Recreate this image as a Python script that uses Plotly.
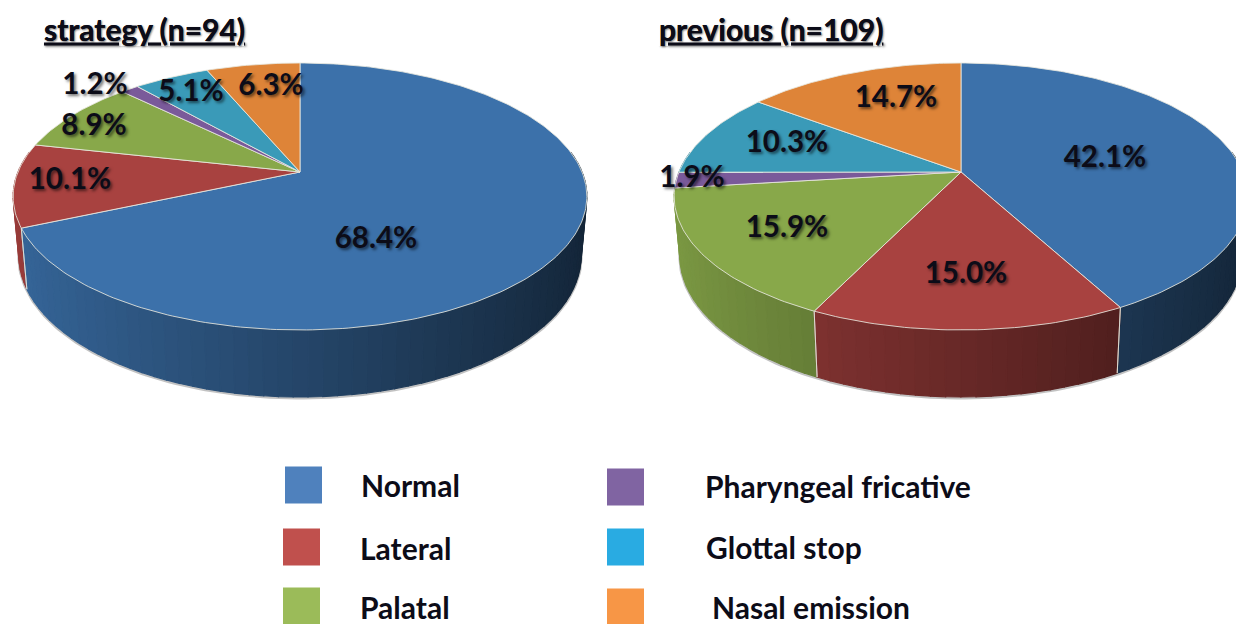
import numpy as np
import plotly.graph_objects as go

# ---- data ----
categories = ["Normal", "Lateral", "Palatal", "Pharyngeal fricative", "Glottal stop", "Nasal emission"]
strategy_values = [68.4, 10.1, 8.9, 1.2, 5.1, 6.3]
previous_values = [42.1, 15.0, 15.9, 1.9, 10.3, 14.7]
titles = ["strategy (n=94)", "previous (n=109)"]

# ---- styling / layout ----
top_colors = [(60, 113, 170), (168, 66, 64), (136, 168, 74), (122, 90, 154), (58, 154, 184), (222, 132, 56)]
legend_colors = ["#4f81bd", "#c0504d", "#9bbb59", "#8064a2", "#29abe2", "#f79646"]
FONT = "Lato"
TEXT = "#0c0c18"
SHADOW = "2px 2px 3px rgba(0,0,0,0.55)"
A, B, P = 282.0, 129.0, 0.1834
pies = [
    dict(values=strategy_values, cx=300, cy=172, title_x=44,
         label_xy=[(376, 241), (70, 182), (94, 128), (95, 87), (191, 94), (271, 88)]),
    dict(values=previous_values, cx=961, cy=172, title_x=659,
         label_xy=[(1105, 160), (966, 276), (787, 230), (692, 180), (787, 145), (896, 100)]),
]
legend_xy = [(303.5, 485, 361, 489), (301.5, 547, 360, 552), (301.5, 606, 360, 611),
             (625.5, 487, 705, 490), (625.5, 547, 706, 551), (625.5, 607, 712, 611)]


def top_rim(theta):
    u, v = np.sin(theta), np.cos(theta)
    d = 1 + P * v
    return A * u / d, -B * v / d


def bottom_rim(theta):
    X, Y = top_rim(theta)
    return 0.98 * X, 58 + 1.057 * Y


def shade(c, f):
    return "rgb(%d,%d,%d)" % tuple(int(min(255, x * f)) for x in c)


fig = go.Figure()


def poly(xs, ys, fill, line="rgba(0,0,0,0)", w=0.0):
    fig.add_trace(go.Scatter(x=list(xs), y=list(ys), mode="lines", fill="toself", fillcolor=fill,
                             line=dict(color=line, width=w), hoverinfo="skip", showlegend=False))


for pie in pies:
    vals = np.array(pie["values"], float)
    edges = np.concatenate([[0], np.cumsum(vals)]) / vals.sum() * 2 * np.pi
    cx, cy = pie["cx"], pie["cy"]

    # soft shadow under the front wall
    th = np.linspace(np.pi * 0.5, np.pi * 1.5, 160)
    X, Y = bottom_rim(th)
    fig.add_trace(go.Scatter(x=cx + X, y=cy + Y + 1, mode="lines",
                             line=dict(color="rgba(120,120,120,0.45)", width=3),
                             hoverinfo="skip", showlegend=False))

    # side walls: collect, then paint back to front so nearer walls cover farther ones
    slivers = []
    seams = []
    for i, c in enumerate(top_colors):
        a0, a1 = edges[i], edges[i + 1]
        lo, hi = max(a0, np.pi * 0.45), min(a1, np.pi * 1.55)
        if hi <= lo:
            continue
        n = max(2, int((hi - lo) / np.radians(2.5)))
        steps = np.linspace(lo, hi, n + 1)
        for s0, s1 in zip(steps[:-1], steps[1:]):
            slivers.append((s0, s1, c))
        for e in (a0, a1):
            if np.cos(e) < -0.2:
                seams.append(e)
    slivers.sort(key=lambda s: -np.cos((s[0] + s[1]) / 2))
    for s0, s1, c in slivers:
        th = np.linspace(s0, s1, 4)
        tx, ty = top_rim(th)
        bx, by = bottom_rim(th)
        f = max(0.3, 0.62 - 0.30 * np.sin((s0 + s1) / 2))
        col = shade(c, f)
        poly(cx + np.r_[tx, bx[::-1], tx[0]], cy + np.r_[ty, by[::-1], ty[0]], col, col, 1.2)
    for e in seams:
        tx, ty = top_rim(e)
        bx, by = bottom_rim(e)
        fig.add_trace(go.Scatter(x=[cx + tx, cx + bx], y=[cy + ty, cy + by], mode="lines",
                                 line=dict(color="rgba(225,225,215,0.8)", width=1),
                                 hoverinfo="skip", showlegend=False))

    # top face wedges
    for i, c in enumerate(top_colors):
        th = np.linspace(edges[i], edges[i + 1], max(6, int((edges[i + 1] - edges[i]) / np.radians(1))))
        X, Y = top_rim(th)
        poly(np.r_[cx, cx + X, cx], np.r_[cy, cy + Y, cy], shade(c, 1), "rgba(232,232,222,0.85)", 1)

    # value labels
    fig.add_trace(go.Scatter(
        x=[p[0] for p in pie["label_xy"]], y=[p[1] for p in pie["label_xy"]], mode="text",
        text=[f"{v:.1f}%" for v in pie["values"]], textposition="middle center",
        textfont=dict(family=FONT, size=29.5, color=TEXT, weight="bold", shadow=SHADOW),
        hoverinfo="skip", showlegend=False))

# titles
for pie, t in zip(pies, titles):
    fig.add_trace(go.Scatter(
        x=[pie["title_x"]], y=[33], mode="text", text=[t], textposition="middle right",
        textfont=dict(family=FONT, size=30, color=TEXT, weight="bold", lineposition="under",
                      shadow="1px 1px 2px rgba(0,0,0,0.3)"),
        hoverinfo="skip", showlegend=False))

# legend
for name, col, (mx, my, tx, ty) in zip(categories, legend_colors, legend_xy):
    fig.add_trace(go.Scatter(x=[mx], y=[my], mode="markers",
                             marker=dict(symbol="square", size=37, color=col, line=dict(width=0)),
                             hoverinfo="skip", showlegend=False))
    fig.add_trace(go.Scatter(x=[tx], y=[ty], mode="text", text=[name], textposition="middle right",
                             textfont=dict(family=FONT, size=30, color=TEXT, weight="bold"),
                             hoverinfo="skip", showlegend=False))

fig.update_layout(
    width=1236, height=624, margin=dict(l=0, r=0, t=0, b=0),
    paper_bgcolor="white", plot_bgcolor="white", showlegend=False,
    xaxis=dict(range=[0, 1236], visible=False, fixedrange=True),
    yaxis=dict(range=[624, 0], visible=False, fixedrange=True),
)
fig.write_html("out.html", config={"displayModeBar": False},
               post_script="document.body.style.margin='0';document.body.style.overflow='hidden';")
